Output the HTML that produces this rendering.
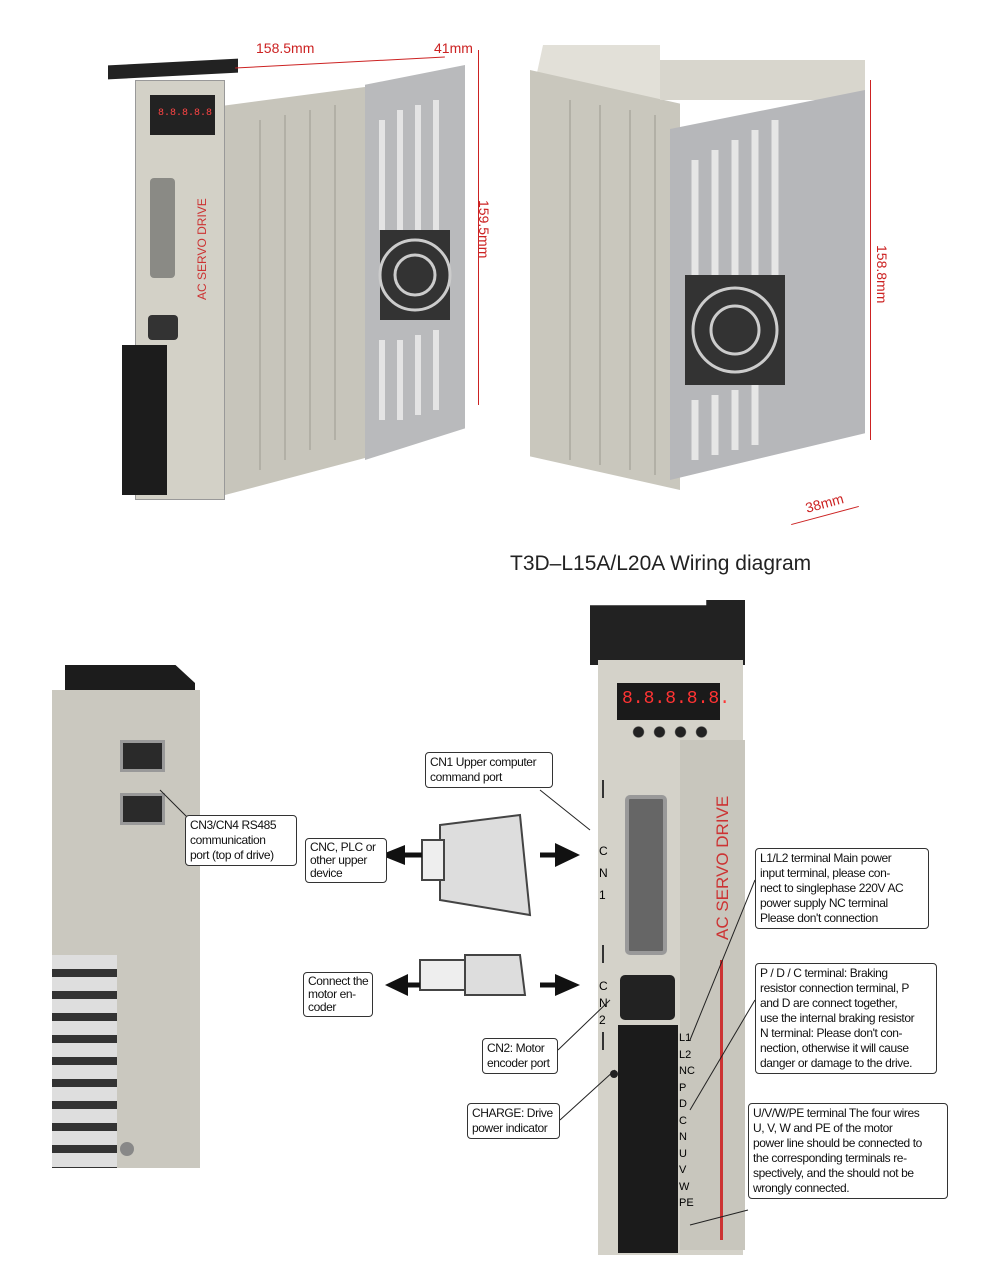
<!DOCTYPE html>
<html><head><meta charset="utf-8"><style>
*{margin:0;padding:0;box-sizing:border-box}
body{width:1000px;height:1275px;background:#fff;position:relative;overflow:hidden;font-family:"Liberation Sans",sans-serif}
.a{position:absolute}
.box{position:absolute;border:1px solid #333;border-radius:4px;background:#fff;font-size:12px;line-height:15px;padding:2px 4px;color:#111;letter-spacing:-0.4px;white-space:nowrap;overflow:hidden}
.dim{position:absolute;color:#c22;font-size:14px}
.line{position:absolute;background:#c22}
</style></head><body>

<!-- Top-left drive -->
<div class="a" style="left:108px;top:62px;width:130px;height:14px;background:#222;transform:skewY(-3deg)"></div>
<div class="a" style="left:135px;top:80px;width:90px;height:420px;background:#d3d1c7;border:1px solid #999"></div>
<div class="a" style="left:150px;top:95px;width:65px;height:40px;background:#222"></div>
<div class="a" style="left:158px;top:108px;width:50px;height:15px;color:#f44;font-size:10px;font-family:'Liberation Mono',monospace">8.8.8.8.8</div>
<div class="a" style="left:150px;top:178px;width:25px;height:100px;background:#8a8a85;border-radius:4px"></div>
<div class="a" style="left:148px;top:315px;width:30px;height:25px;background:#333;border-radius:4px"></div>
<div class="a" style="left:122px;top:345px;width:45px;height:150px;background:#1c1c1c"></div>
<div class="a" style="left:225px;top:85px;width:155px;height:410px;background:#c7c5bb;clip-path:polygon(0 5%,100% 0,100% 90%,0 100%)"></div>
<svg class="a" style="left:240px;top:90px" width="130" height="400"><g stroke="#b2b0a6" stroke-width="2" fill="none"><path d="M20 30 L20 380 M45 25 L45 370 M70 20 L70 360 M95 15 L95 350"/></g></svg>
<div class="a" style="left:365px;top:65px;width:100px;height:395px;background:#b9babc;clip-path:polygon(0 5%,100% 0,100% 92%,0 100%)"></div>
<svg class="a" style="left:372px;top:80px" width="90" height="360"><g stroke="#e4e4e4" stroke-width="6" fill="none"><path d="M10 40 L10 150 M28 30 L28 150 M46 25 L46 150 M64 20 L64 150 M10 260 L10 340 M28 260 L28 340 M46 255 L46 335 M64 250 L64 330"/></g><rect x="8" y="150" width="70" height="90" fill="#333"/><circle cx="43" cy="195" r="35" fill="none" stroke="#ccc" stroke-width="3"/><circle cx="43" cy="195" r="20" fill="none" stroke="#ccc" stroke-width="3"/></svg>
<div class="a" style="left:195px;top:300px;color:#c33;font-size:12px;transform:rotate(-90deg);transform-origin:left top;white-space:nowrap">AC SERVO DRIVE</div>

<!-- Top right drive -->
<div class="a" style="left:530px;top:45px;width:130px;height:60px;background:#e2e0d8;clip-path:polygon(10% 0,100% 0,100% 100%,0 100%)"></div>
<div class="a" style="left:530px;top:70px;width:150px;height:420px;background:#c9c7bd;clip-path:polygon(0 0,100% 8%,100% 100%,0 92%)"></div>
<svg class="a" style="left:540px;top:80px" width="130" height="400"><g stroke="#b2b0a6" stroke-width="2" fill="none"><path d="M30 20 L30 380 M60 25 L60 385 M90 30 L90 390 M115 35 L115 395"/></g></svg>
<div class="a" style="left:660px;top:60px;width:205px;height:40px;background:#d8d6cd"></div>
<div class="a" style="left:670px;top:90px;width:195px;height:390px;background:#b6b7ba;clip-path:polygon(0 10%,100% 0,100% 88%,0 100%)"></div>
<svg class="a" style="left:680px;top:100px" width="110" height="380"><g stroke="#e6e6e6" stroke-width="7" fill="none"><path d="M15 60 L15 180 M35 50 L35 180 M55 40 L55 180 M75 30 L75 180 M95 20 L95 180 M15 300 L15 360 M35 295 L35 355 M55 290 L55 350 M75 285 L75 345"/></g><rect x="5" y="175" width="100" height="110" fill="#333"/><circle cx="55" cy="230" r="42" fill="none" stroke="#ccc" stroke-width="3"/><circle cx="55" cy="230" r="24" fill="none" stroke="#ccc" stroke-width="3"/></svg>

<!-- dimensions -->
<div class="line" style="left:235px;top:62px;width:210px;height:1px;transform:rotate(-3deg)"></div>
<div class="dim" style="left:256px;top:40px">158.5mm</div>
<div class="dim" style="left:434px;top:40px">41mm</div>
<div class="line" style="left:478px;top:50px;width:1px;height:355px"></div>
<div class="dim" style="left:492px;top:200px;transform:rotate(90deg);transform-origin:left top">159.5mm</div>
<div class="line" style="left:870px;top:80px;width:1px;height:360px"></div>
<div class="dim" style="left:890px;top:245px;transform:rotate(90deg);transform-origin:left top">158.8mm</div>
<div class="line" style="left:790px;top:515px;width:70px;height:1px;transform:rotate(-15deg)"></div>
<div class="dim" style="left:805px;top:495px;transform:rotate(-15deg)">38mm</div>

<div class="a" style="left:510px;top:552px;font-size:21px;color:#222">T3D–L15A/L20A Wiring diagram</div>

<!-- bottom left side view -->
<div class="a" style="left:65px;top:665px;width:130px;height:30px;background:#1c1c1c;clip-path:polygon(0 0,85% 0,100% 60%,100% 100%,0 100%)"></div>
<div class="a" style="left:52px;top:690px;width:148px;height:478px;background:#cac8bf"></div>
<div class="a" style="left:120px;top:740px;width:45px;height:32px;background:#2a2a2a;border:3px solid #999"></div>
<div class="a" style="left:120px;top:793px;width:45px;height:32px;background:#2a2a2a;border:3px solid #999"></div>
<div class="a" style="left:52px;top:955px;width:65px;height:213px;background:repeating-linear-gradient(180deg,#dedede 0 14px,#333 14px 22px)"></div>
<div class="a" style="left:120px;top:1142px;width:14px;height:14px;border-radius:50%;background:#888"></div>

<!-- bottom right drive -->
<div class="a" style="left:590px;top:600px;width:155px;height:65px;background:#222;clip-path:polygon(0 8%,75% 8%,75% 0,100% 0,100% 100%,0 100%)"></div>
<div class="a" style="left:598px;top:660px;width:145px;height:595px;background:#d4d2c9"></div>
<div class="a" style="left:680px;top:740px;width:65px;height:510px;background:#c8c6bd"></div>
<div class="a" style="left:617px;top:683px;width:103px;height:37px;background:#1a1a1a;color:#f33;font-size:18px;font-family:'Liberation Mono',monospace;padding:6px 5px">8.8.8.8.8.</div>
<div class="a" style="left:628px;top:726px;width:85px;height:12px;background:radial-gradient(circle,#222 5px,transparent 6px) 0 0/21px 12px repeat-x"></div>
<div class="a" style="left:625px;top:795px;width:42px;height:160px;background:#666;border:4px solid #999;border-radius:5px"></div>
<div class="a" style="left:602px;top:780px;width:2px;height:18px;background:#333"></div>
<div class="a" style="left:599px;top:840px;font-size:12px;line-height:22px;width:10px">C<br>N<br>1</div>
<div class="a" style="left:602px;top:945px;width:2px;height:18px;background:#333"></div>
<div class="a" style="left:599px;top:978px;font-size:12px;line-height:17px;width:10px">C<br>N<br>2</div>
<div class="a" style="left:602px;top:1032px;width:2px;height:18px;background:#333"></div>
<div class="a" style="left:610px;top:1070px;width:8px;height:8px;border-radius:50%;background:#222"></div>
<div class="a" style="left:620px;top:975px;width:55px;height:45px;background:#222;border-radius:5px"></div>
<div class="a" style="left:618px;top:1025px;width:60px;height:228px;background:#1b1b1b"></div>
<div class="a" style="left:713px;top:940px;color:#c33;font-size:17px;transform:rotate(-90deg);transform-origin:left top;white-space:nowrap">AC SERVO  DRIVE</div>
<div class="a" style="left:720px;top:960px;width:3px;height:280px;background:#c33"></div>
<div class="a" style="left:679px;top:1030px;font-size:11px;line-height:16.5px">L1<br>L2<br>NC<br>P<br>D<br>C<br>N<br>U<br>V<br>W<br>PE</div>

<!-- cables -->
<svg class="a" style="left:380px;top:790px" width="220" height="250">
<path d="M60 35 L140 25 L150 125 L60 110 Z" fill="#ddd" stroke="#444" stroke-width="2"/>
<rect x="42" y="50" width="22" height="40" fill="#eee" stroke="#444" stroke-width="2"/>
<polygon points="0,65 25,55 25,75" fill="#111"/><line x1="20" y1="65" x2="42" y2="65" stroke="#111" stroke-width="5"/>
<polygon points="200,65 175,53 175,77" fill="#111"/><line x1="160" y1="65" x2="180" y2="65" stroke="#111" stroke-width="5"/>
<rect x="40" y="170" width="45" height="30" fill="#eee" stroke="#444" stroke-width="2"/>
<path d="M85 165 L140 165 L145 205 L85 205 Z" fill="#ddd" stroke="#444" stroke-width="2"/>
<polygon points="5,195 28,184 28,206" fill="#111"/><line x1="20" y1="195" x2="40" y2="195" stroke="#111" stroke-width="5"/>
<polygon points="200,195 175,184 175,206" fill="#111"/><line x1="160" y1="195" x2="180" y2="195" stroke="#111" stroke-width="5"/>
</svg>

<!-- leader lines -->
<svg class="a" style="left:0;top:0" width="1000" height="1275">
<g stroke="#222" stroke-width="1" fill="none">
<path d="M160 790 L190 820"/><path d="M540 790 L590 830"/>
<path d="M755 880 L690 1040"/><path d="M755 1000 L690 1110"/>
<path d="M748 1210 L690 1225"/><path d="M558 1050 L610 1000"/><path d="M560 1120 L615 1070"/>
</g></svg>

<!-- callouts -->
<div class="box" style="left:425px;top:752px;width:128px">CN1 Upper computer<br>command port</div>
<div class="box" style="left:185px;top:815px;width:112px">CN3/CN4 RS485<br>communication<br>port (top of drive)</div>
<div class="box" style="left:305px;top:838px;width:82px;line-height:13px">CNC, PLC or<br>other upper<br>device</div>
<div class="box" style="left:755px;top:848px;width:174px">L1/L2 terminal Main power<br>input terminal, please con-<br>nect to singlephase 220V AC<br>power supply NC terminal<br>Please don't connection</div>
<div class="box" style="left:755px;top:963px;width:182px">P / D / C terminal:  Braking<br>resistor connection terminal, P<br>and D are connect together,<br>use the internal braking resistor<br>N terminal:  Please don't con-<br>nection, otherwise it will cause<br>danger or damage to the drive.</div>
<div class="box" style="left:303px;top:972px;width:70px;line-height:13px">Connect the<br>motor en-<br>coder</div>
<div class="box" style="left:482px;top:1038px;width:76px">CN2: Motor<br>encoder port</div>
<div class="box" style="left:467px;top:1103px;width:93px">CHARGE: Drive<br>power indicator</div>
<div class="box" style="left:748px;top:1103px;width:200px">U/V/W/PE terminal The four wires<br>U, V, W and PE of the motor<br>power line should be connected to<br>the corresponding terminals re-<br>spectively, and the  should not be<br>wrongly connected.</div>
</body></html>
